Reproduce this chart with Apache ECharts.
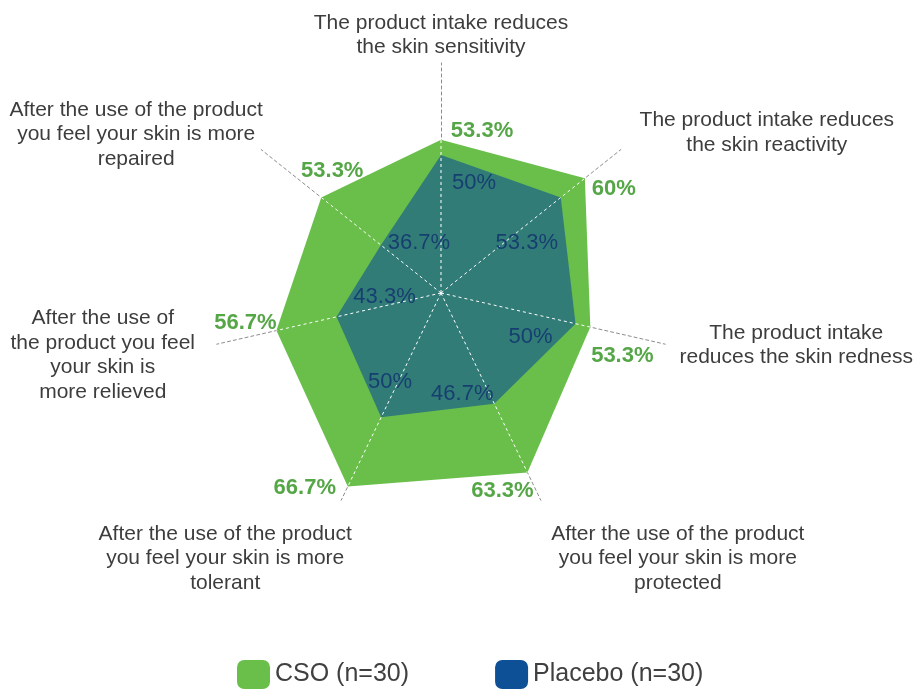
<!DOCTYPE html>
<html>
<head>
<meta charset="utf-8">
<script src="https://cdn.jsdelivr.net/npm/echarts@6/dist/echarts.min.js"></script>
<style>
  html, body { margin: 0; padding: 0; background: #ffffff; }
  #chart { width: 915px; height: 690px; }
</style>
</head>
<body>
<div id="chart"></div>
<script>
// Statements, listed clockwise starting from the top spoke
const statements = [
  'The product intake reduces\nthe skin sensitivity',
  'The product intake reduces\nthe skin reactivity',
  'The product intake\nreduces the skin redness',
  'After the use of the product\nyou feel your skin is more\nprotected',
  'After the use of the product\nyou feel your skin is more\ntolerant',
  'After the use of\nthe product you feel\nyour skin is\nmore relieved',
  'After the use of the product\nyou feel your skin is more\nrepaired'
];
const seriesNames = ['CSO (n=30)', 'Placebo (n=30)'];
// Share of subjects agreeing (%)
const csoValues = [53.3, 60, 53.3, 63.3, 66.7, 56.7, 53.3];
const placeboValues = [50, 53.3, 50, 46.7, 50, 43.3, 36.7];
// Radial scale
const scaleMin = 20;
const scaleMax = 70;

// Label placement around each vertex (pixels)
const csoLabelOffsets = [[41, -9], [29, 11], [32, 29], [-25, 18], [-43, 1], [-31, -8], [11, -27]];
const placeboLabelOffsets = [[33, 28], [-34, 45], [-45, 13], [-32, -10], [9, -35], [48, -20], [38, -2]];
const nameOffsets = [[0, -28], [146, -17], [131, 1], [137, 58], [-116, 58], [-114, 11], [-125, -15]];

const GREEN = '#6abf4b';
const NAVY = '#0e5096';
const FONT = '"Liberation Sans", Arial, Helvetica, sans-serif';
const CENTER = [441, 293];
const RADIUS = 230;

const n = statements.length;
// The radar lays out indicators counter-clockwise; feed it in that order
const radarOrder = [0].concat(Array.from({ length: n - 1 }, (_, i) => n - 1 - i));
const pick = arr => radarOrder.map(i => arr[i]);

// White dashed spokes running through the filled area
const spokeSeries = csoValues.map((v, k) => ({
  type: 'line',
  coordinateSystem: 'polar',
  data: [[scaleMin, k], [v, k]],
  symbol: 'none',
  silent: true,
  z: 3,
  lineStyle: { color: '#ffffff', width: 1, type: [3, 3] }
}));

function labelSeries(values, offsets, style) {
  return {
    type: 'scatter',
    coordinateSystem: 'polar',
    symbolSize: 1,
    silent: true,
    z: 4,
    itemStyle: { color: 'rgba(0,0,0,0)', opacity: 1 },
    data: values.map((v, k) => ({
      value: [v, k],
      label: {
        show: true,
        position: 'inside',
        offset: offsets[k],
        formatter: style.text ? style.text(k) : v + '%'
      }
    })),
    label: Object.assign({ align: 'center', verticalAlign: 'middle', fontFamily: FONT, opacity: 1 }, style.label)
  };
}

const chart = echarts.init(document.getElementById('chart'), null, { renderer: 'canvas' });

chart.setOption({
  animation: false,
  backgroundColor: '#ffffff',
  legend: {
    data: seriesNames,
    left: 237,
    top: 660,
    padding: 0,
    icon: 'roundRect',
    itemWidth: 33,
    itemHeight: 29,
    itemGap: 86,
    selectedMode: false,
    textStyle: { fontSize: 25, color: '#404040', fontFamily: FONT }
  },
  radar: {
    center: CENTER,
    radius: RADIUS,
    startAngle: 90,
    shape: 'polygon',
    splitNumber: 5,
    z: 1,
    indicator: pick(statements).map(name => ({ name: name, min: scaleMin, max: scaleMax })),
    axisName: { show: false },
    axisLine: { lineStyle: { color: '#8c8c8c', width: 1, type: [3, 3] } },
    splitLine: { show: false },
    splitArea: { show: false }
  },
  polar: { center: CENTER, radius: RADIUS },
  angleAxis: {
    type: 'value', min: 0, max: n, startAngle: 90, clockwise: true,
    show: false, axisLine: { show: false }, axisTick: { show: false },
    axisLabel: { show: false }, splitLine: { show: false }
  },
  radiusAxis: {
    type: 'value', min: scaleMin, max: scaleMax,
    show: false, axisLine: { show: false }, axisTick: { show: false },
    axisLabel: { show: false }, splitLine: { show: false }
  },
  series: [
    {
      type: 'radar',
      z: 2,
      silent: true,
      symbol: 'none',
      data: [
        {
          name: seriesNames[0],
          value: pick(csoValues),
          itemStyle: { color: GREEN },
          lineStyle: { width: 0, opacity: 0 },
          areaStyle: { color: GREEN, opacity: 1 }
        },
        {
          name: seriesNames[1],
          value: pick(placeboValues),
          itemStyle: { color: NAVY },
          lineStyle: { width: 0, opacity: 0 },
          areaStyle: { color: NAVY, opacity: 0.6 }
        }
      ]
    }
  ].concat(spokeSeries, [
    labelSeries(csoValues, csoLabelOffsets, {
      label: { fontSize: 22, fontWeight: 'bold', color: '#55a646' }
    }),
    labelSeries(placeboValues, placeboLabelOffsets, {
      label: { fontSize: 22, color: '#163f70' }
    }),
    labelSeries(csoValues.map(() => scaleMax), nameOffsets, {
      text: k => statements[k],
      label: { fontSize: 21, lineHeight: 24.5, color: '#3d3d3d' }
    })
  ])
});
</script>
</body>
</html>
